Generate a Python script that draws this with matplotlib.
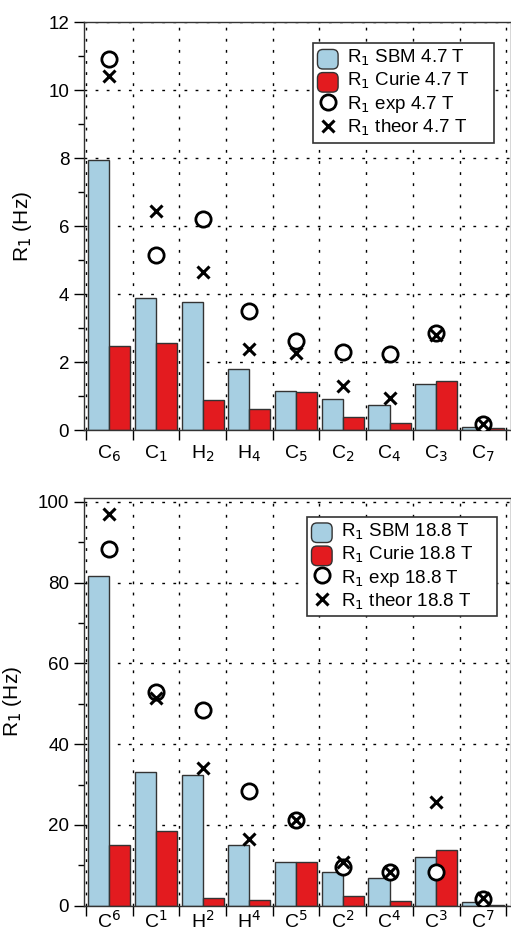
import numpy as np
import matplotlib
matplotlib.use('Agg')
import matplotlib.pyplot as plt
from matplotlib.patches import FancyBboxPatch
from matplotlib.legend_handler import HandlerPatch
from matplotlib.ticker import MultipleLocator, FixedLocator, NullFormatter

plt.rcParams['font.family'] = ['Liberation Sans', 'DejaVu Sans']
plt.rcParams['font.size'] = 13.5

atoms = ['C', 'C', 'H', 'H', 'C', 'C', 'C', 'C', 'C']
nums = ['6', '1', '2', '4', '5', '2', '4', '3', '7']

# 4.7 T
sbm_47 = [7.95, 3.90, 3.77, 1.79, 1.16, 0.92, 0.73, 1.35, 0.10]
curie_47 = [2.47, 2.55, 0.88, 0.62, 1.11, 0.38, 0.20, 1.44, 0.05]
exp_47 = [10.92, 5.16, 6.20, 3.51, 2.62, 2.30, 2.25, 2.86, 0.17]
theor_47 = [10.41, 6.45, 4.64, 2.39, 2.28, 1.29, 0.95, 2.81, 0.17]

# 18.8 T
sbm_188 = [81.7, 33.1, 32.3, 15.0, 10.7, 8.3, 6.9, 12.1, 0.8]
curie_188 = [15.1, 18.4, 1.8, 1.4, 10.9, 2.4, 1.2, 13.7, 0.25]
exp_188 = [88.4, 53.0, 48.5, 28.5, 21.2, 9.7, 8.4, 8.3, 1.7]
theor_188 = [97.0, 51.5, 34.2, 16.5, 21.1, 10.8, 8.4, 25.8, 1.9]

blue = '#a7cfe2'
red = '#e31b1f'


class RoundHandler(HandlerPatch):
    def create_artists(self, legend, orig_handle, xdescent, ydescent,
                       width, height, fontsize, trans):
        fc = orig_handle.patches[0].get_facecolor()
        p = FancyBboxPatch((-xdescent, -ydescent - 3), width, height + 2,
                           boxstyle='round,pad=0,rounding_size=4',
                           facecolor=fc, edgecolor='#333333', lw=1.0,
                           transform=trans)
        return [p]


def panel(ax, sbm, curie, exp, theor, field, ymax, major, minor, sup,
          leg_box, xpad):
    x = np.arange(len(sbm))
    b1 = ax.bar(x, sbm, width=-0.45, align='edge', color=blue,
                edgecolor='#333333', lw=1.0, zorder=2)
    b2 = ax.bar(x, curie, width=0.45, align='edge', color=red,
                edgecolor='#333333', lw=1.0, zorder=2)
    l1, = ax.plot(x, exp, 'o', ms=11, mfc='white', mec='black', mew=2.0,
                  zorder=4)
    l2, = ax.plot(x, theor, 'x', ms=8, mec='black', mew=2.2, zorder=5)

    ax.set_xlim(-0.543, 8.6)
    ax.set_ylim(0, ymax)
    ax.xaxis.set_major_locator(FixedLocator(np.arange(-0.5, 9.0, 1.0)))
    ax.xaxis.set_major_formatter(NullFormatter())
    ax.xaxis.set_minor_locator(FixedLocator(x))
    if sup:
        labs = ['%s$^{%s}$' % (a, n) for a, n in zip(atoms, nums)]
    else:
        labs = ['%s$_{%s}$' % (a, n) for a, n in zip(atoms, nums)]
    ax.xaxis.set_minor_formatter(plt.FixedFormatter(labs))
    ax.tick_params(axis='x', which='major', direction='out', length=7, width=1)
    ax.tick_params(axis='x', which='minor', length=0, pad=xpad, labelsize=14)
    ax.yaxis.set_major_locator(MultipleLocator(major))
    ax.yaxis.set_minor_locator(MultipleLocator(minor))
    ax.tick_params(axis='y', which='major', direction='out', length=7, width=1)
    ax.tick_params(axis='y', which='minor', direction='out', length=4, width=1)

    ax.grid(True, which='major', color='black', lw=1.0,
            linestyle=(0, (2, 6)), zorder=1)
    ax.set_axisbelow(True)
    for s in ax.spines.values():
        s.set_linewidth(1.0)
        s.set_color('#333333')
    ax.set_ylabel('R$_1$ (Hz)', fontsize=15, labelpad=10)

    labels = ['R$_1$ SBM %s T' % field, 'R$_1$ Curie %s T' % field,
              'R$_1$ exp %s T' % field, 'R$_1$ theor %s T' % field]
    leg = ax.legend([b1, b2, l1, l2], labels,
                    loc='upper right', bbox_to_anchor=leg_box, mode='expand',
                    borderaxespad=0, fancybox=False, framealpha=1,
                    edgecolor='#333333', handlelength=1.1, handleheight=1.0,
                    handletextpad=0.45, labelspacing=0.15, borderpad=0.25,
                    handler_map={b1: RoundHandler(), b2: RoundHandler()})
    leg.get_frame().set_linewidth(1.2)
    leg.set_zorder(6)


fig = plt.figure(figsize=(5.11, 9.33), dpi=100)
ax1 = fig.add_axes([0.164, 0.539, 0.836, 0.437])
ax2 = fig.add_axes([0.164, 0.0293, 0.836, 0.437])

panel(ax1, sbm_47, curie_47, exp_47, theor_47, '4.7', 12, 2, 1, False,
      (0.536, 0.5, 0.424, 0.449), 10)
panel(ax2, sbm_188, curie_188, exp_188, theor_188, '18.8', 101, 20, 10, True,
      (0.522, 0.5, 0.445, 0.454), 3)

fig.savefig('out.png', dpi=100)
